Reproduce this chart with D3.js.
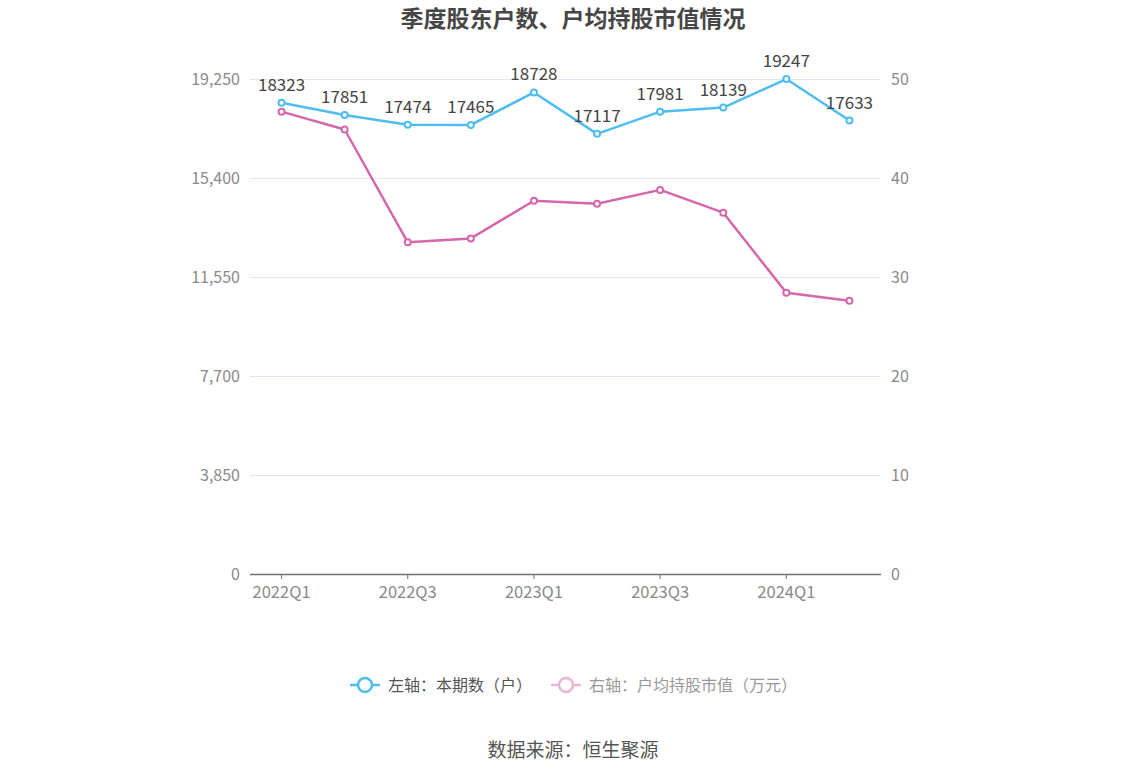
<!DOCTYPE html>
<html><head><meta charset="utf-8">
<script src="https://cdn.jsdelivr.net/npm/d3@7/dist/d3.min.js"></script>
<style>
body{margin:0;background:#fff;}
svg{font-family:"Microsoft YaHei","Noto Sans CJK SC","Noto Sans",sans-serif;}
</style></head><body>
<svg id="c" width="1147" height="776"></svg>
<script>
const categories = ["2022Q1","2022Q2","2022Q3","2022Q4","2023Q1","2023Q2","2023Q3","2023Q4","2024Q1","2024Q2"];
const holders = [18323,17851,17474,17465,18728,17117,17981,18139,19247,17633];
const avgValue = [46.7,44.9,33.5,33.9,37.7,37.4,38.8,36.5,28.4,27.6];
const leftTicks = [0,3850,7700,11550,15400,19250];
const rightTicks = [0,10,20,30,40,50];
const title = "季度股东户数、户均持股市值情况";
const legendNames = ["左轴：本期数（户）","右轴：户均持股市值（万元）"];
const source = "数据来源：恒生聚源";

const blue = "#4fbdf0", pink = "#d468ab";
const svg = d3.select("#c");
const L = 250, R = 881, T = 79, B = 574;

const x = d3.scaleBand().domain(categories).range([L, R]);
const yL = d3.scaleLinear().domain([0, 19250]).range([B, T]);
const yR = d3.scaleLinear().domain([0, 50]).range([B, T]);
const cx = d => x(d) + x.bandwidth()/2;

// title
svg.append("text").attr("x", 573).attr("y", 27).attr("text-anchor","middle")
  .attr("font-size", 23).attr("font-weight","bold").attr("fill","#464646").text(title);

// grid
svg.append("g").selectAll("line").data(leftTicks.slice(1)).join("line")
  .attr("x1", L).attr("x2", R).attr("y1", d=>yL(d)+0.5).attr("y2", d=>yL(d)+0.5)
  .attr("stroke","#e0e6f1").attr("stroke-width",1);

// left axis labels
svg.append("g").selectAll("text").data(leftTicks).join("text")
  .attr("x", 240).attr("y", d=>yL(d)).attr("dy","0.35em").attr("text-anchor","end")
  .attr("font-size", 16).attr("fill","#8a8a8a").text(d=>d3.format(",")(d));
// right axis labels
svg.append("g").selectAll("text").data(rightTicks).join("text")
  .attr("x", 891).attr("y", d=>yR(d)).attr("dy","0.35em").attr("text-anchor","start")
  .attr("font-size", 16).attr("fill","#8a8a8a").text(d=>d);

// x axis
const xg = svg.append("g");
xg.append("line").attr("x1",L).attr("x2",R).attr("y1",B+0.5).attr("y2",B+0.5)
  .attr("stroke","#6e7079").attr("stroke-width",1.5);
const shown = categories.filter((d,i)=>i%2===0);
xg.selectAll("line.t").data(shown).join("line").attr("class","t")
  .attr("x1",d=>cx(d)).attr("x2",d=>cx(d)).attr("y1",B).attr("y2",B+5)
  .attr("stroke","#6e7079");
xg.selectAll("text").data(shown).join("text")
  .attr("x",d=>cx(d)).attr("y",B+24).attr("text-anchor","middle")
  .attr("font-size",16.5).attr("fill","#8a8a8a").text(d=>d);

// lines
function series(vals, y, color){
  const line = d3.line().x((d,i)=>cx(categories[i])).y(d=>y(d));
  svg.append("path").datum(vals).attr("d",line).attr("fill","none")
    .attr("stroke",color).attr("stroke-width",2.5).attr("stroke-linejoin","round");
  svg.append("g").selectAll("circle").data(vals).join("circle")
    .attr("cx",(d,i)=>cx(categories[i])).attr("cy",d=>y(d)).attr("r",3)
    .attr("fill","#fff").attr("stroke",color).attr("stroke-width",2);
}
series(avgValue, yR, pink);
series(holders, yL, blue);

// data labels
svg.append("g").selectAll("text").data(holders).join("text")
  .attr("x",(d,i)=>cx(categories[i])).attr("y",d=>yL(d)-12)
  .attr("text-anchor","middle").attr("font-size",17).attr("fill","#444").text(d=>d);

// legend
const lg = svg.append("g");
function legendItem(x0, color, textColor, label){
  lg.append("line").attr("x1",x0).attr("x2",x0+30).attr("y1",685).attr("y2",685)
    .attr("stroke",color).attr("stroke-width",2.5);
  lg.append("circle").attr("cx",x0+15).attr("cy",685).attr("r",7)
    .attr("fill","#fff").attr("stroke",color).attr("stroke-width",2.5);
  lg.append("text").attr("x",x0+38).attr("y",685).attr("dy","0.35em")
    .attr("font-size",16).attr("fill",textColor).text(label);
}
legendItem(350, blue, "#555", legendNames[0]);
legendItem(551, "#eab5d4", "#999", legendNames[1]);

// source
svg.append("text").attr("x",573).attr("y",757).attr("text-anchor","middle")
  .attr("font-size",19).attr("fill","#555").text(source);
</script>
</body></html>
